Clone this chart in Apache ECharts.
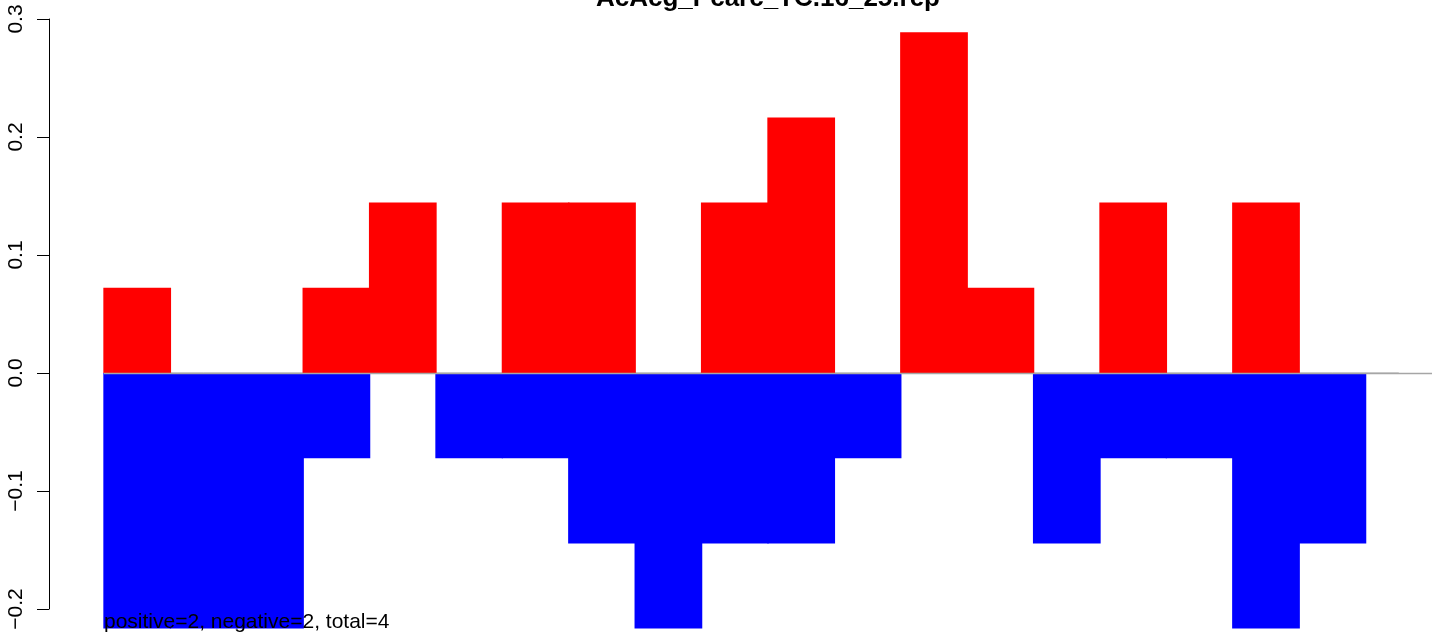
<!DOCTYPE html>
<html>
<head>
<meta charset="utf-8">
<script src="https://cdn.jsdelivr.net/npm/echarts@6/dist/echarts.min.js"></script>
<style>
html,body{margin:0;padding:0;background:#fff;}
#chart{width:1444px;height:641px;}
</style>
</head>
<body>
<div id="chart"></div>
<script>
const titleText = 'AcAcg_Pcarc_TC.16_25.rep';
const footText = 'positive=2, negative=2, total=4';
const categories = ['1','2','3','4','5','6','7','8','9','10','11','12','13','14','15','16','17','18','19','20'];
const positiveValues = [0.0722,0,0,0.0722,0.1444,0,0.1444,0.1444,0,0.1444,0.2166,0,0.2888,0.0722,0,0.1444,0,0.1444,0,0];
const negativeValues = [-0.2166,-0.2166,-0.2166,-0.0722,0,-0.0722,-0.0722,-0.1444,-0.2166,-0.1444,-0.1444,-0.0722,0,0,-0.1444,-0.0722,-0.0722,-0.2166,-0.1444,0];
const tickValues = [-0.2,-0.1,0.0,0.1,0.2,0.3];
const tickLabels = ['\u22120.2','\u22120.1','0.0','0.1','0.2','0.3'];

const chart = echarts.init(document.getElementById('chart'), null, {renderer:'canvas'});
const font = 'Liberation Sans, Arial, Helvetica, sans-serif';
const skipZero = arr => arr.map(v => v === 0 ? '-' : v);
chart.setOption({
  animation:false,
  backgroundColor:'#ffffff',
  grid:{left:104,right:12,top:19,bottom:32,containLabel:false},
  xAxis:{type:'category',data:categories,boundaryGap:true,show:false},
  yAxis:{
    type:'value',min:-0.2,max:0.3,interval:0.1,offset:55,
    axisLine:{show:true,lineStyle:{color:'#000',width:1}},
    axisTick:{show:true,length:12,lineStyle:{color:'#000',width:1}},
    splitLine:{show:false},
    axisLabel:{
      rotate:90,margin:22,color:'#000',fontSize:21,fontFamily:font,
      formatter:function(v){
        const i = tickValues.findIndex(t=>Math.abs(t-v)<1e-9);
        return i>=0 ? tickLabels[i] : '';
      }
    }
  },
  series:[
    {
      type:'line',data:categories.map(()=>0),symbol:'none',silent:true,z:1,
      lineStyle:{color:'#a6a6a6',width:1},
      markLine:{silent:true,symbol:'none',label:{show:false},
        lineStyle:{color:'#a6a6a6',width:1.3,type:'solid'},
        data:[{yAxis:0}]}
    },
    {
      type:'bar',data:skipZero(positiveValues),barWidth:'102%',barGap:'-100%',clip:false,z:2,
      itemStyle:{color:'#ff0000'}
    },
    {
      type:'bar',data:skipZero(negativeValues),barWidth:'102%',barGap:'-100%',clip:false,z:2,
      itemStyle:{color:'#0000ff'}
    }
  ],
  graphic:[
    {type:'text',x:768,y:-1,z:10,
      style:{text:titleText,fill:'#000',font:'bold 26px '+font,textAlign:'center',textVerticalAlign:'middle'}},
    {type:'text',x:104,y:633,z:10,
      style:{text:footText,fill:'#000',font:'21px '+font,textAlign:'left',textVerticalAlign:'bottom'}}
  ]
});
</script>
</body>
</html>
